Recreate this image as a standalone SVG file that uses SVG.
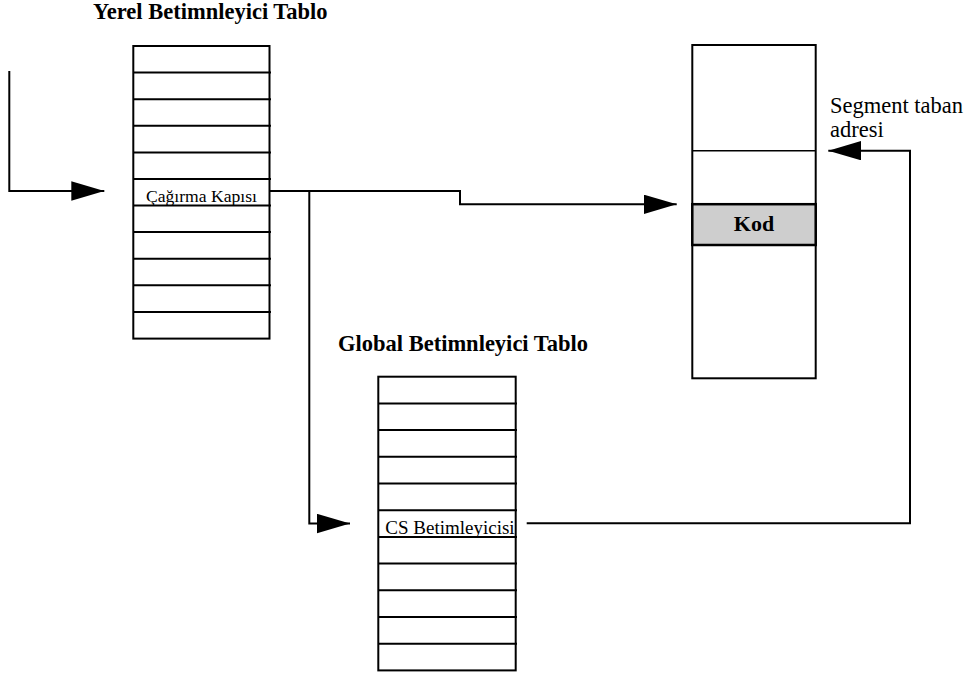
<svg xmlns="http://www.w3.org/2000/svg" width="965" height="677" viewBox="0 0 965 677">
<style>
.frame{fill:#fff;stroke:#000;stroke-width:2}
.row{stroke:#000;stroke-width:2}
.conn{fill:none;stroke:#000;stroke-width:2}
.title{font-family:"Liberation Serif","Times New Roman",serif;font-weight:bold;font-size:22.5px;fill:#000}
.cell{font-family:"Liberation Serif","Times New Roman",serif;fill:#000}
.lbl{font-family:"Liberation Serif","Times New Roman",serif;font-size:22.5px;fill:#000}
</style>
<defs>
<marker id="arr" markerUnits="userSpaceOnUse" markerWidth="34" markerHeight="20" refX="33" refY="9.7" orient="auto">
<path d="M0,0 L33,9.7 L0,19.4 z" fill="#000"/>
</marker>
</defs>
<rect width="965" height="677" fill="#fff"/>

<g id="ldt">
<rect class="frame" x="133.3" y="46" width="136.2" height="292.6"/>
<g class="row">
<line x1="133.3" y1="72.6" x2="271" y2="72.6"/>
<line x1="133.3" y1="99.2" x2="271" y2="99.2"/>
<line x1="133.3" y1="125.8" x2="271" y2="125.8"/>
<line x1="133.3" y1="152.4" x2="271" y2="152.4"/>
<line x1="133.3" y1="178.9" x2="271" y2="178.9"/>
<line x1="133.3" y1="205.5" x2="271" y2="205.5"/>
<line x1="133.3" y1="232.1" x2="271" y2="232.1"/>
<line x1="133.3" y1="258.7" x2="271" y2="258.7"/>
<line x1="133.3" y1="285.3" x2="271" y2="285.3"/>
<line x1="133.3" y1="311.9" x2="271" y2="311.9"/>
</g>
<text class="cell" x="201.5" y="201.7" font-size="17.6" text-anchor="middle">Çağırma Kapısı</text>
</g>

<g id="ldt-title">
<text class="title" x="93" y="18.5">Yerel Betimnleyici Tablo</text>
</g>

<g id="gdt">
<rect class="frame" x="378.3" y="376.7" width="137.4" height="293.7"/>
<g class="row">
<line x1="378.3" y1="403.4" x2="517" y2="403.4"/>
<line x1="378.3" y1="430.1" x2="517" y2="430.1"/>
<line x1="378.3" y1="456.8" x2="517" y2="456.8"/>
<line x1="378.3" y1="483.5" x2="517" y2="483.5"/>
<line x1="378.3" y1="510.2" x2="517" y2="510.2"/>
<line x1="378.3" y1="536.9" x2="517" y2="536.9"/>
<line x1="378.3" y1="563.6" x2="517" y2="563.6"/>
<line x1="378.3" y1="590.3" x2="517" y2="590.3"/>
<line x1="378.3" y1="617" x2="517" y2="617"/>
<line x1="378.3" y1="643.7" x2="517" y2="643.7"/>
</g>
<text class="cell" x="450" y="534" font-size="19" text-anchor="middle">CS Betimleyicisi</text>
</g>

<g id="gdt-title">
<text class="title" x="338" y="351">Global Betimnleyici Tablo</text>
</g>

<g id="memory">
<rect class="frame" x="692.3" y="45" width="123.4" height="333.3"/>
<line x1="692.3" y1="150.7" x2="815.7" y2="150.7" stroke="#000" stroke-width="1.6"/>
<rect x="692.3" y="204.2" width="123.4" height="40.8" fill="#cecece" stroke="#000" stroke-width="2.5"/>
<text x="754" y="230.7" font-family="'Liberation Serif','Times New Roman',serif" font-weight="bold" font-size="22" text-anchor="middle">Kod</text>
</g>

<g id="segment-label">
<text class="lbl" x="830" y="113.3">Segment taban</text>
<text class="lbl" x="830" y="136.5">adresi</text>
</g>

<g id="connectors">
<path class="conn" d="M9.3,71 V191 H104.3" marker-end="url(#arr)"/>
<path class="conn" d="M270,191 H460 V204.3 H676.7" marker-end="url(#arr)"/>
<path class="conn" d="M309.3,191 V523.5 H350" marker-end="url(#arr)"/>
<path class="conn" d="M526.7,523.3 H910 V150.7 H828.3" marker-end="url(#arr)"/>
</g>
</svg>
